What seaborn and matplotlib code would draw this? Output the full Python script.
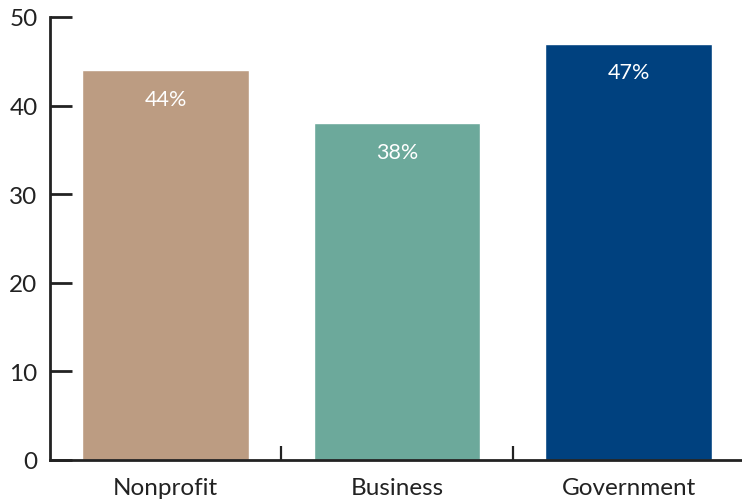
import matplotlib
matplotlib.use("Agg")
import matplotlib.pyplot as plt
import seaborn as sns
import pandas as pd

sectors = ["Nonprofit", "Business", "Government"]
shares = [44, 38, 47]
colors = ["#BC9C82", "#6CA99B", "#00417F"]
y_ticks = [0, 10, 20, 30, 40, 50]

sns.set_theme(style="ticks")
plt.rcParams["font.family"] = ["Lato", "DejaVu Sans"]

df = pd.DataFrame({"sector": sectors, "share": shares})

fig = plt.figure(figsize=(7.42, 5.02), dpi=100)
ax = fig.add_axes([50 / 742, 1 - 461 / 502, 1 - 50 / 742, (461 - 18) / 502])

sns.barplot(data=df, x="sector", y="share", hue="sector", palette=colors,
            width=0.72, saturation=1, legend=False, ax=ax)

for i, v in enumerate(shares):
    ax.text(i, v - 3.2, f"{v}%", ha="center", va="center",
            color="white", fontsize=15.5)

ax.set_ylim(0, 50)
ax.set_xlim(-0.5, 2.49)
ax.set_yticks(y_ticks)
ax.set_xlabel("")
ax.set_ylabel("")

# minor ticks mark the boundaries between categories
ax.set_xticks([0.5, 1.5], minor=True)
ax.tick_params(axis="x", which="major", length=0, labelsize=17.5, pad=12,
               colors="#222222")
ax.tick_params(axis="x", which="minor", direction="in", length=10, width=1.6,
               color="#222222")
ax.tick_params(axis="y", direction="in", length=16, width=2, labelsize=17.5,
               pad=9, colors="#222222")
for t in ax.get_xticklabels() + ax.get_yticklabels():
    t.set_color("#222222")

for side in ["top", "right"]:
    ax.spines[side].set_visible(False)
for side in ["left", "bottom"]:
    ax.spines[side].set_linewidth(2)
    ax.spines[side].set_color("#222222")

fig.savefig("out.png", dpi=100)
